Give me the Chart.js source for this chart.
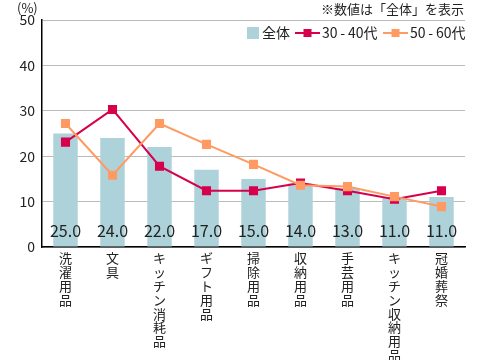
<!DOCTYPE html>
<html>
<head>
<meta charset="utf-8">
<style>
  html, body { margin: 0; padding: 0; background: #fff; }
  #wrap { width: 480px; height: 360px; }
</style>
<script src="https://cdn.jsdelivr.net/npm/chart.js@4/dist/chart.umd.min.js"></script>
</head>
<body>
<div id="wrap"><canvas id="chart" width="480" height="360"></canvas></div>
<script>
// chart data
const categories = ['洗濯用品', '文具', 'キッチン消耗品', 'ギフト用品', '掃除用品', '収納用品', '手芸用品', 'キッチン収納用品', '冠婚葬祭'];
const allValues = [25, 24, 22, 17, 15, 14, 13, 11, 11];
const age3040 = [23.1, 30.3, 17.8, 12.4, 12.4, 14.1, 12.4, 10.5, 12.4];
const age5060 = [27.2, 15.8, 27.2, 22.6, 18.2, 13.6, 13.3, 11.1, 8.9];
const seriesNames = ['全体', '30-40代', '50-60代'];
const yTicks = [0, 10, 20, 30, 40, 50];

const FONT = '"Noto Sans CJK JP", "Noto Sans", sans-serif';
const BAR_COLOR = '#aed2da';
const RED = '#d6004c';
const ORANGE = '#ff9a62';

// value labels at the foot of each bar + header texts + legend
const extrasPlugin = {
    id: 'extras',
    afterDatasetsDraw(chart) {
        const ctx = chart.ctx;
        const yScale = chart.scales.y;
        const meta = chart.getDatasetMeta(0);
        ctx.save();
        ctx.fillStyle = '#222';
        ctx.font = '16px ' + FONT;
        ctx.textAlign = 'center';
        ctx.textBaseline = 'middle';
        meta.data.forEach(function(bar, i) {
            ctx.fillText(allValues[i].toFixed(1), bar.x, yScale.bottom - 16);
        });
        ctx.restore();
    },
    afterDraw(chart) {
        const ctx = chart.ctx;
        const area = chart.chartArea;
        ctx.save();
        ctx.fillStyle = '#222';
        ctx.textBaseline = 'middle';

        ctx.font = '13px ' + FONT;
        ctx.textAlign = 'left';
        ctx.fillText('(%)', 17, 8);
        ctx.textAlign = 'right';
        ctx.fillText('※数値は「全体」を表示', area.right - 1, 9);

        // legend
        const ly = 33;
        ctx.font = '14px ' + FONT;
        ctx.textAlign = 'left';
        const ds = chart.data.datasets;
        ctx.fillStyle = BAR_COLOR;
        ctx.fillRect(247, ly - 6, 12, 12);
        ctx.fillStyle = '#222';
        ctx.fillText(ds[0].label, 262, ly);

        [[1, 295], [2, 383]].forEach(function(item) {
            const d = ds[item[0]];
            const x = item[1];
            ctx.strokeStyle = d.borderColor;
            ctx.lineWidth = 2;
            ctx.beginPath();
            ctx.moveTo(x, ly);
            ctx.lineTo(x + 25, ly);
            ctx.stroke();
            ctx.fillStyle = d.borderColor;
            ctx.fillRect(x + 12.5 - 4, ly - 4, 8, 8);
            ctx.fillStyle = '#222';
            // spaced hyphen like the original
            ctx.fillText(d.label.replace('-', '\u2009-\u2009'), x + 27, ly);
        });
        ctx.restore();
    }
};

new Chart(document.getElementById('chart'), {
    data: {
        labels: categories.map(function(c) { return c.split(''); }),
        datasets: [
            {
                type: 'bar',
                label: seriesNames[0],
                data: allValues,
                backgroundColor: BAR_COLOR,
                barPercentage: 0.52,
                categoryPercentage: 1,
                order: 3
            },
            {
                type: 'line',
                label: seriesNames[1],
                data: age3040,
                borderColor: RED,
                backgroundColor: RED,
                borderWidth: 2,
                pointStyle: 'rect',
                pointRadius: 5,
                pointHoverRadius: 5,
                tension: 0,
                order: 2
            },
            {
                type: 'line',
                label: seriesNames[2],
                data: age5060,
                borderColor: ORANGE,
                backgroundColor: ORANGE,
                borderWidth: 2,
                pointStyle: 'rect',
                pointRadius: 5,
                pointHoverRadius: 5,
                tension: 0,
                order: 1
            }
        ]
    },
    options: {
        responsive: false,
        animation: false,
        layout: { padding: { top: 20, right: 15, left: 0, bottom: 0 } },
        plugins: {
            legend: { display: false },
            tooltip: { enabled: false }
        },
        scales: {
            x: {
                afterFit: function(scale) { scale.height = 113; },
                grid: { display: false },
                border: { display: true, color: '#000', width: 1.5 },
                ticks: {
                    autoSkip: false,
                    maxRotation: 0,
                    minRotation: 0,
                    padding: -4,
                    color: '#222',
                    font: { family: FONT, size: 13, lineHeight: 1.07 }
                }
            },
            y: {
                min: 0,
                max: 50,
                afterFit: function(scale) { scale.width = 42; },
                afterBuildTicks: function(scale) {
                    scale.ticks = yTicks.map(function(v) { return { value: v }; });
                },
                grid: { color: '#bbb', drawTicks: false, lineWidth: 1 },
                border: { display: true, color: '#000', width: 1.5 },
                ticks: {
                    padding: 7,
                    color: '#222',
                    font: { family: FONT, size: 14 }
                }
            }
        }
    },
    plugins: [extrasPlugin]
});
</script>
</body>
</html>
